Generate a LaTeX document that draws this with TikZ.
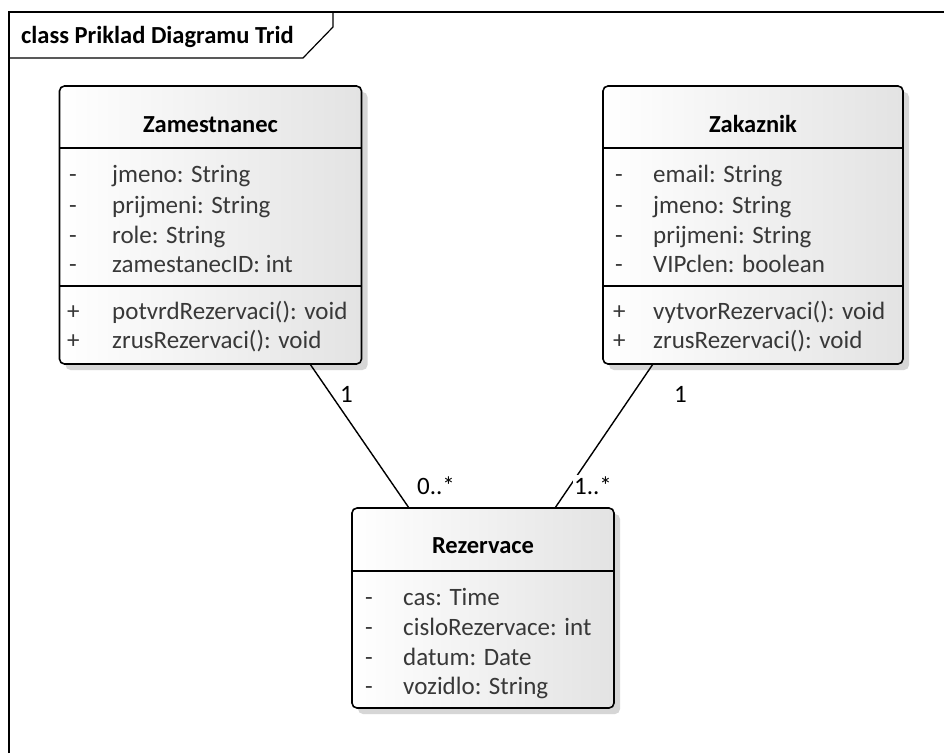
\documentclass[tikz,border=0pt]{standalone}
\usepackage{fontspec}
\setmainfont{Carlito}
\usetikzlibrary{shadows}
\begin{document}
\begin{tikzpicture}[x=1pt,y=-1pt,
  classbox/.style={draw=black, line width=1.6pt, rounded corners=5pt,
    left color=white, right color=black!11,
    drop shadow={shadow xshift=6pt, shadow yshift=-6pt, fill=black!16, opacity=1},
    minimum width=#1, inner sep=0pt},
  sep/.style={line width=1.6pt},
  assoc/.style={line width=1.4pt},
  cname/.style={font=\fontsize{24.5}{28}\selectfont\bfseries, anchor=base, inner sep=0pt},
  member/.style={font=\fontsize{25}{29}\selectfont, text=black!78, anchor=base west, inner sep=0pt},
  mult/.style={font=\fontsize{25}{29}\selectfont, anchor=base west, inner sep=0pt}]
\useasboundingbox (0,0) rectangle (944,753);
\fill[white] (0,0) rectangle (944,753);

% diagram frame with its name tab
\draw[line width=1.2pt] (9,753) -- (9,12) -- (944,12);
\draw[line width=1.2pt] (333,12) -- (333,27) -- (303,58) -- (9,58);
\node[font=\fontsize{24.5}{28}\selectfont\bfseries, anchor=base west, inner sep=0pt] (frametitle) at (21,43) {class Priklad Diagramu Trid};

% class Zamestnanec
\node[classbox=302pt, minimum height=278pt] (zam) at (210.5,225) {};
\draw[sep] (59,148) -- (362,148);
\draw[sep] (59,286) -- (362,286);
\node[cname] (zamN) at (210.5,132) {Zamestnanec};
\node[member] (z1a) at (69,182) {-};  \node[member] (z1) at (112,182) {jmeno: String};
\node[member] (z2a) at (69,213) {-};  \node[member] (z2) at (112,213) {prijmeni: String};
\node[member] (z3a) at (69,243) {-};  \node[member] (z3) at (112,243) {role: String};
\node[member] (z4a) at (69,272) {-};  \node[member] (z4) at (112,272) {zamestanecID: int};
\node[member] (z5a) at (67,319) {+};  \node[member] (z5) at (112,319) {potvrdRezervaci(): void};
\node[member] (z6a) at (67,348) {+};  \node[member] (z6) at (112,348) {zrusRezervaci(): void};

% class Zakaznik
\node[classbox=300pt, minimum height=278pt] (zak) at (753,225) {};
\draw[sep] (603,148) -- (903,148);
\draw[sep] (603,286) -- (903,286);
\node[cname] (zakN) at (753,132) {Zakaznik};
\node[member] (k1a) at (615,182) {-};  \node[member] (k1) at (653,182) {email: String};
\node[member] (k2a) at (615,213) {-};  \node[member] (k2) at (653,213) {jmeno: String};
\node[member] (k3a) at (615,243) {-};  \node[member] (k3) at (653,243) {prijmeni: String};
\node[member] (k4a) at (615,272) {-};  \node[member] (k4) at (653,272) {VIPclen: boolean};
\node[member] (k5a) at (613,319) {+};  \node[member] (k5) at (653,319) {vytvorRezervaci(): void};
\node[member] (k6a) at (613,348) {+};  \node[member] (k6) at (653,348) {zrusRezervaci(): void};

% class Rezervace
\node[classbox=262pt, minimum height=200pt] (rez) at (483,608) {};
\draw[sep] (352,571) -- (614,571);
\node[cname] (rezN) at (483,553) {Rezervace};
\node[member] (r1a) at (365,605) {-};  \node[member] (r1) at (403,605) {cas: Time};
\node[member] (r2a) at (365,635) {-};  \node[member] (r2) at (403,635) {cisloRezervace: int};
\node[member] (r3a) at (365,665) {-};  \node[member] (r3) at (403,665) {datum: Date};
\node[member] (r4a) at (365,694) {-};  \node[member] (r4) at (403,694) {vozidlo: String};

% associations
\coordinate (zamEnd) at (310,364);
\coordinate (rezL) at (409,508);
\coordinate (zakEnd) at (653,364);
\coordinate (rezR) at (555,508);
\draw[assoc] (zamEnd) -- (rezL);
\draw[assoc] (zakEnd) -- (rezR);
\node[mult, fill=white, inner sep=1pt] (m1) at (339,402) {1};
\node[mult] (m2) at (417,494) {0..*};
\node[mult] (m3) at (674,402) {1};
\node[mult, fill=white, inner sep=1pt] (m4) at (573,494) {1..*};
\end{tikzpicture}
\end{document}
